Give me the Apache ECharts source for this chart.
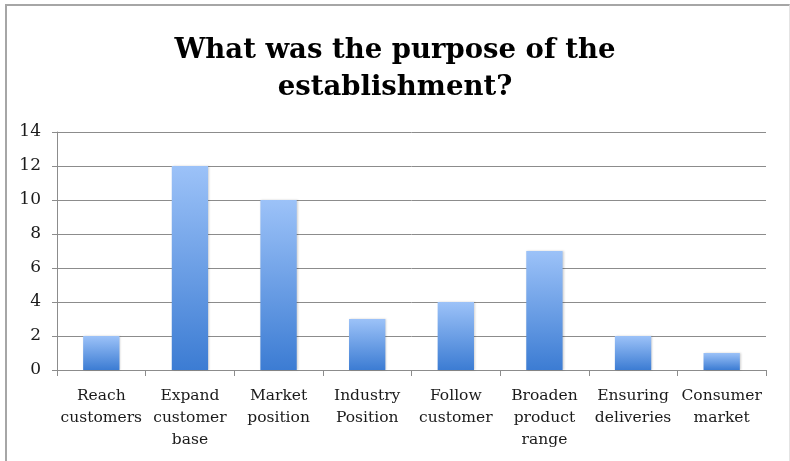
<!DOCTYPE html>
<html>
<head>
<meta charset="utf-8">
<script src="https://cdn.jsdelivr.net/npm/echarts@6/dist/echarts.min.js"></script>
<style>
  html, body { margin: 0; padding: 0; background: #fff; }
  #frame {
    position: absolute; left: 5px; top: 4px; width: 782px; height: 457px;
    border-top: 2px solid #a6a6a6; border-left: 2px solid #a6a6a6; border-right: 1px solid #e4e4e4;
  }
  #chart { position: absolute; left: 0; top: 0; width: 790px; height: 461px; }
</style>
</head>
<body>
<div id="frame"></div>
<div id="chart"></div>
<script>
// Survey answers: purpose of the establishment
const categories = [
  'Reach\ncustomers', 'Expand\ncustomer\nbase', 'Market\nposition', 'Industry\nPosition',
  'Follow\ncustomer', 'Broaden\nproduct\nrange', 'Ensuring\ndeliveries', 'Consumer\nmarket'
];
const counts = [2, 12, 10, 3, 4, 7, 2, 1];
const yTicks = [0, 2, 4, 6, 8, 10, 12, 14];
const titleText = 'What was the purpose of the\nestablishment?';

const serif = '"DejaVu Serif", "Liberation Serif", serif';
const chart = echarts.init(document.getElementById('chart'), null, { renderer: 'canvas' });

chart.setOption({
  animation: false,
  backgroundColor: 'transparent',
  title: {
    text: titleText,
    left: 'center',
    top: 27,
    textStyle: { fontFamily: serif, fontWeight: 'bold', fontSize: 27.5, lineHeight: 37, color: '#000' }
  },
  grid: { left: 57, right: 24, top: 132, bottom: 91 },
  xAxis: {
    type: 'category',
    data: categories,
    axisLine: { lineStyle: { color: '#8c8c8c', width: 1 } },
    axisTick: { show: true, length: 6, alignWithLabel: false, lineStyle: { color: '#8c8c8c' } },
    axisLabel: {
      interval: 0, margin: 15, fontFamily: serif, fontSize: 15.5, lineHeight: 22, color: '#1a1a1a'
    }
  },
  yAxis: {
    type: 'value',
    min: yTicks[0],
    max: yTicks[yTicks.length - 1],
    interval: yTicks[1] - yTicks[0],
    axisLine: { show: true, lineStyle: { color: '#8c8c8c' } },
    axisTick: { show: true, length: 5, lineStyle: { color: '#8c8c8c' } },
    splitLine: { lineStyle: { color: '#8c8c8c', width: 1 } },
    axisLabel: { margin: 16, fontFamily: serif, fontSize: 17, color: '#1a1a1a' }
  },
  series: [{
    type: 'bar',
    data: counts,
    barWidth: '41%',
    itemStyle: {
      color: new echarts.graphic.LinearGradient(0, 0, 0, 1, [
        { offset: 0, color: '#9cc2f8' },
        { offset: 1, color: '#3c7cd3' }
      ]),
      shadowColor: 'rgba(0,0,0,0.18)',
      shadowBlur: 2,
      shadowOffsetX: 1,
      shadowOffsetY: 0
    }
  }]
});
</script>
</body>
</html>
